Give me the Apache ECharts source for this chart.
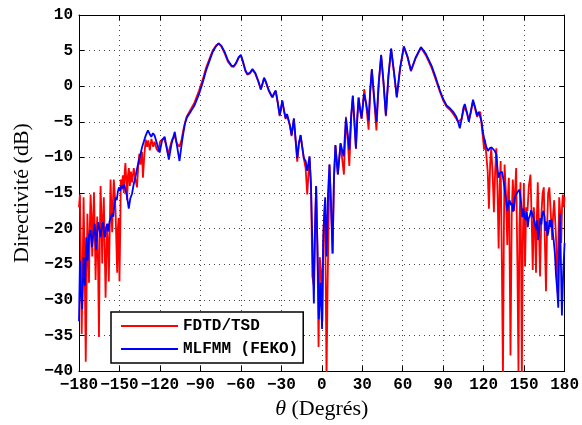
<!DOCTYPE html>
<html>
<head>
<meta charset="utf-8">
<script src="https://cdn.jsdelivr.net/npm/echarts@6/dist/echarts.min.js"></script>
<style>html,body{margin:0;padding:0;background:#fff;}#c{width:582px;height:425px;}</style>
</head>
<body>
<div id="c"></div>
<script>
// Tick values
const xTicks = [-180, -150, -120, -90, -60, -30, 0, 30, 60, 90, 120, 150, 180];
const yTicks = [-40, -35, -30, -25, -20, -15, -10, -5, 0, 5, 10];
const seriesNames = ['FDTD/TSD', 'MLFMM (FEKO)'];

// MLFMM (FEKO) : [angle (deg), directivity (dB)]
const mlfmmPoints = [
[-180,-33],[-179.3,-24.5],[-178.6,-29],[-177.6,-31.3],[-176.6,-24],[-175.6,-28],[-174.6,-21.2],[-173.6,-24.5],[-172.6,-21],[-171.5,-20.2],
[-170.4,-22.6],[-169.3,-20.5],[-168.3,-19.3],[-167.4,-23],[-166.5,-20.5],[-165.7,-19.1],[-164.8,-20.2],[-164,-21.2],[-163,-19.6],[-162.2,-19.1],
[-161.4,-20.5],[-160.7,-21.2],[-159.9,-19.8],[-159.1,-19.3],[-158.2,-20.4],[-157.4,-19],[-156.6,-18.6],[-155.6,-17.9],[-154.6,-18.3],[-153.7,-16.5],
[-152.8,-15.6],[-152,-16],[-151.2,-14.8],[-150.4,-14.2],[-149.5,-14.7],[-148.5,-13.9],[-147.5,-14.3],[-146.5,-13.8],[-145.5,-14.6],[-144.4,-15.5],
[-143.1,-17.2],[-142,-15.8],[-140.7,-15.1],[-139.5,-13.8],[-138.2,-12.8],[-137,-11.6],[-135.7,-10.5],[-134.5,-9.6],[-133.3,-8.6],[-132,-7.8],
[-130.5,-6.9],[-128.9,-6.2],[-127.6,-6.7],[-126.4,-7.1],[-125.2,-6.6],[-124,-6.9],[-122,-8.2],[-120.2,-9.3],[-118.4,-7.6],[-116.5,-7.1],
[-115,-8.6],[-113.4,-10.3],[-111.3,-8],[-109,-6.4],[-107.3,-8.4],[-105.5,-10.5],[-103.5,-7.6],[-101.5,-5.3],[-100,-4.4],[-97,-3.5],
[-94.4,-2.7],[-91,-1.1],[-88,0.7],[-85.8,2.2],[-83,3.7],[-80.9,4.8],[-78.5,5.6],[-76.5,6.0],[-74.5,5.7],[-72,4.8],
[-69.5,3.6],[-67,2.9],[-65.4,2.8],[-63.5,3.3],[-61.6,4.1],[-60,4.4],[-58.5,3.5],[-56.6,2.2],[-55.1,1.7],[-53.3,1.9],
[-51.4,2.4],[-49.4,1.9],[-47,0.7],[-45.2,-0.4],[-43.8,0.5],[-42.8,1.2],[-41.4,0.6],[-39.4,-0.5],[-37.6,-1.2],[-36.6,-1.5],
[-35.4,-1.0],[-34.2,-0.6],[-32.8,-2.1],[-31.2,-4.1],[-30.2,-3.0],[-29.3,-2.0],[-28,-3.4],[-26.8,-4.5],[-25.8,-3.9],[-24.9,-3.85],
[-23.6,-5.5],[-22.4,-6.85],[-20.7,-4.5],[-19.4,-7.5],[-18.2,-10.1],[-17,-8],[-15.7,-6.85],[-14.5,-8.5],[-13.3,-10.1],[-12,-10.5],
[-10.8,-11.9],[-9.1,-9.85],[-8,-14],[-7,-22],[-5.9,-30.5],[-5.1,-21],[-4.2,-14.0],[-3.3,-22],[-2.2,-32.7],[-1.0,-27.6],
[0.2,-34.1],[1.0,-22],[1.7,-18.5],[2.5,-15.6],[3.6,-23.9],[4.6,-15],[5.7,-11],[6.9,-17],[8.0,-23.5],[9.0,-13],
[10.1,-8.25],[11.9,-12.4],[13.9,-8.0],[16.2,-9.85],[17.9,-4.5],[19.1,-6.5],[20.4,-8.9],[21.8,-4],[23.0,-1.3],[24.2,-5],
[25.3,-8.7],[26.3,-4.5],[27.3,-1.6],[28.4,-3.2],[29.5,-4.5],[31.3,-1.1],[33,-2.5],[34.7,-4.8],[35.9,-0.5],[37.1,2.4],
[38.8,-1.5],[40.5,-5.0],[42.2,0.5],[44,4.4],[45.8,0.5],[47.5,-4.1],[49.4,1.5],[51.4,5.3],[53.5,2],[55.6,-1.5],
[58,2.5],[60.8,5.6],[63.5,4.2],[66.1,2.2],[69.5,4],[73.5,5.5],[77,4.6],[81.4,2.85],[84.5,1.2],[87.6,-0.6],
[90,-1.8],[92.5,-2.7],[95,-3.1],[97.4,-3.6],[99.5,-4.2],[101,-5.0],[102.3,-5.9],[103.6,-4.7],[105,-3.0],[106,-2.5],
[107.6,-3.7],[109,-5.0],[110.6,-3.4],[112.1,-1.9],[113.6,-2.9],[115.1,-4.1],[116.3,-3.6],[117.5,-3.4],[118.5,-5],[119.5,-6.5],
[120.8,-7.8],[122,-8.5],[123.2,-9.1],[124.5,-8.7],[126,-8.6],[127.2,-8.8],[128.3,-9.1],[129.4,-9.6],[130.2,-11.5],[131.1,-12.85],
[132,-12.2],[132.8,-12.4],[133.6,-12],[134.4,-12.85],[135.3,-14],[136,-15.2],[136.8,-16.2],[137.5,-17.5],[138.3,-16.5],[139.2,-16],
[140.1,-16.7],[141,-16.4],[141.7,-17.6],[142.3,-17.2],[143.2,-15.5],[144.1,-15.2],[145.4,-14.8],[146.6,-14.5],[147.8,-16.5],[148.6,-18.4],
[149.4,-17.2],[150.3,-18.3],[151.2,-18.8],[152,-17.6],[152.7,-19.8],[153.4,-18.6],[154.2,-18.2],[155.2,-17.4],[156.4,-17.5],[157.3,-18.7],
[158.2,-19.5],[158.9,-20.2],[159.7,-18.8],[160.3,-21.6],[161.2,-20.3],[162,-18.5],[162.8,-19.4],[163.5,-18],[164.3,-17.5],[165.1,-18.3],
[165.8,-20.3],[166.6,-19],[167.3,-21],[168,-20.4],[168.8,-18.8],[169.5,-19.8],[170.2,-18.7],[171,-20.2],[171.9,-21.6],[172.8,-23.5],
[173.6,-26.5],[174.5,-28.5],[175.3,-31.1],[175.9,-24],[176.5,-17.9],[177.2,-24],[178,-32.2],[179,-26],[180,-22]
];

// FDTD/TSD : [angle (deg), directivity (dB)]
const fdtdPoints = [
[-180,-17],[-179.3,-15.2],[-178.6,-24],[-178,-34.8],[-177.3,-26],[-176.6,-15.6],[-175.8,-25],[-175,-38.7],[-174.3,-27],[-173.8,-17.9],
[-173.2,-22],[-172.6,-27.6],[-172,-20],[-171.4,-15.2],[-170.8,-18],[-170.2,-23.9],[-169.5,-19],[-168.9,-14.9],[-168.3,-20],[-167.7,-27.2],
[-167.1,-22],[-166.5,-18.3],[-165.8,-26],[-165.2,-35.2],[-164.6,-22],[-164,-14],[-163.4,-18],[-162.8,-24.9],[-162.2,-19],[-161.6,-15.6],
[-161,-22],[-160.3,-29.7],[-159.7,-24],[-159.1,-19.9],[-158.5,-22],[-157.9,-27.4],[-157.2,-20],[-156.6,-13.1],[-156,-17],[-155.4,-20.5],
[-154.8,-16],[-154.2,-13.1],[-153.5,-15],[-152.9,-17.5],[-152.3,-22],[-151.7,-26.2],[-151.2,-20],[-150.6,-18.5],[-150,-27.4],[-149.4,-20],
[-149,-13.1],[-148.3,-14.5],[-147.5,-12.5],[-146.8,-15],[-146.1,-12],[-145.6,-10.8],[-145,-13],[-144.3,-16],[-143.7,-12.5],[-143,-11.5],
[-142.3,-14],[-141.5,-12],[-140.6,-13.5],[-139.4,-11.5],[-138.2,-13],[-137,-14.2],[-136,-11],[-135.3,-9.5],[-134.5,-11],[-133.3,-9.2],
[-132.6,-12.85],[-131.5,-9.5],[-130.5,-7.5],[-129.5,-8.5],[-128.7,-7.6],[-127.5,-9],[-126.3,-7.4],[-125,-8.5],[-124,-7.8],[-122.5,-8.8],
[-121,-9.2],[-120,-7.8],[-118.5,-7.5],[-117,-7.3],[-115.5,-8.2],[-114,-9.5],[-112.5,-8.5],[-111,-7.5],[-109,-7],[-107.5,-8],
[-105.5,-8.5],[-104,-7.5],[-102.5,-6],[-101,-4.8],[-100,-4.2],[-97,-3.2],[-94.4,-2.3],[-91,-0.6],[-88,1.1],[-85.8,2.6],
[-83,4.0],[-80.9,5.0],[-78.5,5.7],[-76.5,6.0],[-74.5,5.6],[-72,4.6],[-69.5,3.4],[-67,2.8],[-65.4,2.7],[-63.5,3.2],
[-61.6,4.0],[-60,4.3],[-58.5,3.4],[-56.6,2.1],[-55.1,1.6],[-53.3,1.8],[-51.4,2.3],[-49.4,1.8],[-47,0.6],[-45.2,-0.5],
[-43.8,0.4],[-42.8,1.1],[-41.4,0.5],[-39.4,-0.6],[-37.6,-1.3],[-36.6,-1.6],[-35.4,-1.1],[-34.2,-0.7],[-32.8,-2.2],[-31.2,-4.2],
[-30.2,-3.1],[-29.3,-2.1],[-28,-3.5],[-26.8,-4.6],[-25.8,-4],[-24.9,-3.95],[-23.6,-5.6],[-22.4,-7],[-20.7,-4.6],[-19.4,-7.7],
[-18.2,-10.6],[-17,-8.2],[-15.7,-6.9],[-14.5,-8.6],[-13.3,-10.2],[-12,-11.5],[-10.8,-15.2],[-9.1,-9.9],[-8,-14],[-7,-26.7],
[-5.9,-28],[-5.1,-20],[-4.2,-14],[-3.3,-22],[-2.4,-36.6],[-1.5,-24],[-0.5,-26],[0.4,-33],[1.3,-20],[2.4,-16],
[3.5,-41],[4.3,-28],[5.7,-11],[6.9,-17],[8,-23.5],[9,-13],[10.1,-8.3],[11.9,-12.4],[13.9,-8.1],[16.4,-12.4],
[17.9,-4.3],[19.2,-7.5],[20.4,-11.2],[21.8,-4.5],[23,-1.4],[24.2,-5.2],[25.3,-8.8],[26.3,-4.5],[27.3,-1.6],[28.4,-3.3],
[29.5,-4.6],[31.5,-0.4],[33.2,-3.2],[34.7,-6.1],[35.9,-0.7],[37.1,2.3],[38.8,-2],[40.5,-6.2],[42.2,0.3],[44,4.3],
[45.8,0.3],[47.5,-4.2],[49.4,1.4],[51.4,5.2],[53.5,1.9],[55.6,-1.6],[58,2.4],[60.8,5.5],[63.5,4.1],[66.1,2.1],
[69.5,3.9],[73.5,5.4],[77,4.4],[81.4,2.6],[84.5,0.9],[87.6,-0.8],[90,-2],[92.5,-2.9],[95,-3.3],[97.4,-3.9],
[99.5,-4.5],[101,-5.0],[102.3,-5.2],[103.6,-4.6],[105,-3.4],[106,-3.0],[107.6,-3.7],[109,-4.8],[110.6,-3.6],[112.1,-2.1],
[113.6,-3.1],[115.1,-4.3],[116.3,-3.9],[117.5,-3.6],[118.5,-5.5],[119.5,-7.3],[120.3,-8.9],[121,-7.5],[122,-7.3],[123,-12],
[123.9,-17.2],[124.8,-11],[125.6,-8.7],[126.6,-12],[127.6,-17.7],[128.5,-12],[129.4,-8.7],[130.3,-15],[131.1,-22.8],[131.9,-14],
[132.6,-10.5],[133.5,-25],[134.3,-41],[135,-20],[135.5,-11],[136.5,-15],[137.5,-22.3],[138.1,-15],[138.7,-12.85],[139.3,-25],
[139.9,-37.8],[140.8,-18],[141.6,-13.1],[142.5,-17.5],[143.2,-15],[144.1,-11.5],[145,-25],[145.8,-40],[146.5,-20],[147.3,-13.5],
[147.8,-25],[148.3,-41],[149,-22],[149.8,-13.6],[150.7,-25.3],[151.5,-17],[152.5,-17.5],[153.5,-14],[154.7,-12.4],[155.5,-18],
[156.4,-25.8],[157.2,-17],[158,-20],[158.8,-26.2],[159.5,-18],[160.1,-13.5],[161,-20],[161.8,-26.7],[162.8,-18],[163.7,-15],
[164.6,-14.2],[165.4,-22],[166.2,-28.8],[167,-20],[167.8,-15],[168.7,-14.2],[169.8,-18],[170.8,-21.6],[171.5,-18],[172.3,-16],
[172.9,-15.9],[173.8,-22],[174.8,-29],[175.4,-22],[176,-15.6],[176.8,-18],[177.5,-22],[178.1,-17],[178.7,-15.2],[179.4,-17],
[180,-15.5]
];

const chart = echarts.init(document.getElementById('c'), null, {renderer: 'canvas'});
const tickFont = {color: '#000', fontFamily: 'Liberation Mono', fontWeight: 'bold', fontSize: 16};
const minus = v => String(v).replace('-', '\u2212');
const xMin = xTicks[0], xMax = xTicks[xTicks.length - 1];
const yMin = yTicks[0], yMax = yTicks[yTicks.length - 1];
const xStep = xTicks[1] - xTicks[0], yStep = yTicks[1] - yTicks[0];
const grid = {left: 79, right: 15, top: 15, bottom: 49};

chart.setOption({
  animation: false,
  backgroundColor: '#fff',
  grid: grid,
  legend: {
    data: seriesNames,
    orient: 'vertical',
    left: 111, top: 312,
    padding: [6, 5, 6, 10],
    itemGap: 7,
    itemWidth: 57, itemHeight: 2,
    icon: 'rect',
    borderColor: '#000', borderWidth: 1.5,
    backgroundColor: '#fff',
    textStyle: {color: '#000', fontFamily: 'Liberation Mono', fontWeight: 'bold', fontSize: 16}
  },
  xAxis: [{
    type: 'value', min: xMin, max: xMax, interval: xStep,
    name: '{t|θ} (Degrés)', nameLocation: 'middle', nameGap: 24,
    nameTextStyle: {color: '#000', fontFamily: 'Liberation Serif', fontSize: 22,
      rich: {t: {fontFamily: 'Liberation Serif', fontStyle: 'italic', fontSize: 22, color: '#000'}}},
    axisLine: {show: true, onZero: false, lineStyle: {color: '#000', width: 1}},
    axisTick: {show: true, inside: true, length: 5, lineStyle: {color: '#000'}},
    axisLabel: Object.assign({margin: 6, formatter: minus}, tickFont),
    splitLine: {show: true, lineStyle: {color: '#444', width: 1, type: [1, 4]}}
  }, {
    type: 'value', position: 'top', min: xMin, max: xMax, interval: xStep,
    axisLine: {show: true, onZero: false, lineStyle: {color: '#000', width: 1}},
    axisTick: {show: true, inside: true, length: 5, lineStyle: {color: '#000'}},
    axisLabel: {show: false}, splitLine: {show: false}
  }],
  yAxis: [{
    type: 'value', min: yMin, max: yMax, interval: yStep,
    name: 'Directivité (dB)', nameLocation: 'middle', nameGap: 46,
    nameTextStyle: {color: '#000', fontFamily: 'Liberation Serif', fontSize: 22},
    axisLine: {show: true, onZero: false, lineStyle: {color: '#000', width: 1}},
    axisTick: {show: true, inside: true, length: 5, lineStyle: {color: '#000'}},
    axisLabel: Object.assign({margin: 6, formatter: minus}, tickFont),
    splitLine: {show: true, lineStyle: {color: '#444', width: 1, type: [1, 4]}}
  }, {
    type: 'value', position: 'right', min: yMin, max: yMax, interval: yStep,
    axisLine: {show: true, onZero: false, lineStyle: {color: '#000', width: 1}},
    axisTick: {show: true, inside: true, length: 5, lineStyle: {color: '#000'}},
    axisLabel: {show: false}, splitLine: {show: false}
  }],
  series: [{
    name: seriesNames[0], type: 'line', data: fdtdPoints,
    xAxisIndex: 0, yAxisIndex: 0,
    showSymbol: false, symbol: 'none', clip: true,
    lineStyle: {color: '#ff0000', width: 1.8}, itemStyle: {color: '#ff0000'}, z: 2
  }, {
    name: seriesNames[1], type: 'line', data: mlfmmPoints,
    xAxisIndex: 0, yAxisIndex: 0,
    showSymbol: false, symbol: 'none', clip: true,
    lineStyle: {color: '#0000ff', width: 1.8}, itemStyle: {color: '#0000ff'}, z: 3
  }]
});
</script>
</body>
</html>
